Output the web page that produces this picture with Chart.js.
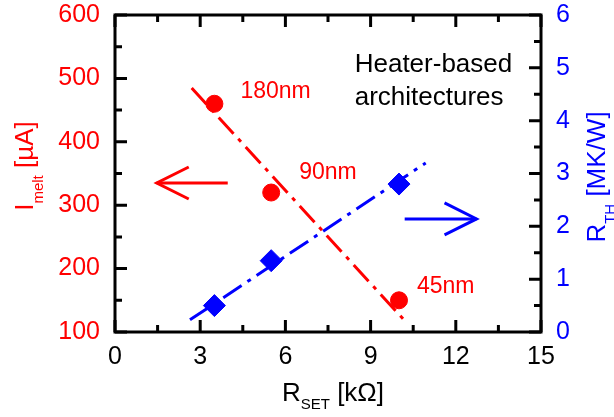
<!DOCTYPE html>
<html><head><meta charset="utf-8">
<script src="https://cdn.jsdelivr.net/npm/chart.js@4"></script>
<style>html,body{margin:0;padding:0;background:#fff;overflow:hidden}#wrap{width:614px;height:417px}</style>
</head><body><div id="wrap"><canvas id="c" width="614" height="417"></canvas></div>
<script>
// ---- data ----
const rSet = [3.5, 5.5, 10];            // R_SET [kΩ]
const iMelt = [460, 320, 150];          // I_melt [µA]
const rTh = [0.5, 1.35, 2.8];           // R_TH [MK/W]
const nodes = ['180nm', '90nm', '45nm'];
const iMeltFitX = [2.7, 10.3];
const iMeltFitY = [485, 113];
const rThFitX = [2.64, 10.94];
const rThFitY = [0.23, 3.2];
const xTicks = [0, 3, 6, 9, 12, 15];
const yTicks = [100, 200, 300, 400, 500, 600];
const y2Ticks = [0, 1, 2, 3, 4, 5, 6];

// ---- styling / annotation constants ----
const RED = '#ff0000', BLUE = '#0000ff';
const FONT = '"Liberation Sans", Arial, Helvetica, sans-serif';
const nodeOffsets = [[26, -12], [28, -20], [18, -14]];
const arrows = [
  { axis: 'y', from: [3.97, 335], to: [1.47, 335], color: RED },
  { axis: 'y2', from: [10.2, 2.14], to: [12.73, 2.14], color: BLUE }
];
const noteLines = ['Heater-based', 'architectures'];
const notePos = { x: 8.44, y: [521, 469] };

function pts(xs, ys) { return xs.map((v, i) => ({ x: v, y: ys[i] })); }

function drawRich(ctx, parts, x, y, rot, color, align) {
  ctx.save();
  ctx.translate(x, y);
  ctx.rotate(rot);
  ctx.fillStyle = color;
  ctx.textBaseline = 'alphabetic';
  ctx.textAlign = 'left';
  let w = 0;
  parts.forEach(p => { ctx.font = p.size + 'px ' + FONT; p.w = ctx.measureText(p.t).width; w += p.w; });
  let cx = align === 'center' ? -w / 2 : 0;
  parts.forEach(p => { ctx.font = p.size + 'px ' + FONT; ctx.fillText(p.t, cx, p.dy || 0); cx += p.w; });
  ctx.restore();
}

const decor = {
  id: 'decor',
  afterDraw(chart) {
    const { ctx, chartArea: a, scales } = chart;
    const x = scales.x, y = scales.y, y2 = scales.y2;
    const minors = t => { const m = []; for (let i = 0; i < t.length - 1; i++) m.push((t[i].value + t[i + 1].value) / 2); return m; };
    const MAJ = 12, MIN = 7;
    ctx.save();
    ctx.strokeStyle = '#000';
    ctx.lineWidth = 3;
    ctx.lineCap = 'butt';
    ctx.beginPath();
    const xt = (v, L) => { const p = x.getPixelForValue(v); ctx.moveTo(p, a.bottom); ctx.lineTo(p, a.bottom - L); ctx.moveTo(p, a.top); ctx.lineTo(p, a.top + L); };
    x.ticks.forEach(t => xt(t.value, MAJ)); minors(x.ticks).forEach(v => xt(v, MIN));
    const yl = (v, L) => { const p = y.getPixelForValue(v); ctx.moveTo(a.left, p); ctx.lineTo(a.left + L, p); };
    y.ticks.forEach(t => yl(t.value, MAJ)); minors(y.ticks).forEach(v => yl(v, MIN));
    const yr = (v, L) => { const p = y2.getPixelForValue(v); ctx.moveTo(a.right, p); ctx.lineTo(a.right - L, p); };
    y2.ticks.forEach(t => yr(t.value, MAJ)); minors(y2.ticks).forEach(v => yr(v, MIN));
    ctx.stroke();
    ctx.lineJoin = 'miter';
    ctx.strokeRect(a.left, a.top, a.right - a.left, a.bottom - a.top);

    // arrows
    arrows.forEach(ar => {
      const s = scales[ar.axis];
      const fx = x.getPixelForValue(ar.from[0]), fy = s.getPixelForValue(ar.from[1]);
      const tx = x.getPixelForValue(ar.to[0]), ty = s.getPixelForValue(ar.to[1]);
      const L = Math.hypot(tx - fx, ty - fy), dx = (tx - fx) / L, dy = (ty - fy) / L;
      const bx = tx - dx * 32, by = ty - dy * 32, nx = -dy * 16, ny = dx * 16;
      ctx.strokeStyle = ar.color; ctx.lineWidth = 3;
      ctx.beginPath(); ctx.moveTo(fx, fy); ctx.lineTo(tx, ty); ctx.stroke();
      ctx.beginPath(); ctx.moveTo(bx + nx, by + ny); ctx.lineTo(tx, ty); ctx.lineTo(bx - nx, by - ny); ctx.stroke();
    });

    // node labels
    ctx.font = '23px ' + FONT;
    ctx.fillStyle = RED; ctx.textAlign = 'left'; ctx.textBaseline = 'middle';
    nodes.forEach((n, i) => {
      const px = x.getPixelForValue(rSet[i]) + nodeOffsets[i][0];
      const py = y.getPixelForValue(iMelt[i]) + nodeOffsets[i][1];
      ctx.fillText(n, px, py);
    });
    // note
    ctx.font = '26px ' + FONT; ctx.fillStyle = '#000';
    noteLines.forEach((t, i) => ctx.fillText(t, x.getPixelForValue(notePos.x), y.getPixelForValue(notePos.y[i])));
    ctx.restore();

    // axis titles
    drawRich(ctx, [{ t: 'R', size: 26 }, { t: 'SET', size: 15, dy: 8 }, { t: ' [kΩ]', size: 26 }], (a.left + a.right) / 2 + 5, 401, 0, '#000', 'center');
    drawRich(ctx, [{ t: 'I', size: 26 }, { t: 'melt', size: 15, dy: 10 }, { t: ' [µA]', size: 26 }], 33, 166, -Math.PI / 2, RED, 'center');
    drawRich(ctx, [{ t: 'R', size: 26 }, { t: 'TH', size: 15, dy: 10 }, { t: ' [MK/W]', size: 26 }], 605, 177, -Math.PI / 2, BLUE, 'center');
  }
};

const tickFont = { family: FONT, size: 25 };
const noPad = s => { s.paddingTop = 0; s.paddingBottom = 0; };
new Chart(document.getElementById('c'), {
  type: 'scatter',
  data: {
    datasets: [
      { label: 'I_melt', data: pts(rSet, iMelt), yAxisID: 'y', backgroundColor: RED, borderColor: RED, pointStyle: 'circle', pointRadius: 8.5, pointBorderWidth: 1, order: 0 },
      { label: 'R_TH', data: pts(rSet, rTh), yAxisID: 'y2', backgroundColor: BLUE, borderColor: BLUE, pointStyle: 'rectRot', pointRadius: 11, pointBorderWidth: 1, order: 0 },
      { type: 'line', label: 'I_melt trend', data: pts(iMeltFitX, iMeltFitY), yAxisID: 'y', borderColor: RED, borderWidth: 3, borderDash: [22, 7, 4, 7], pointRadius: 0, fill: false, order: 1 },
      { type: 'line', label: 'R_TH trend', data: pts(rThFitX, rThFitY), yAxisID: 'y2', borderColor: BLUE, borderWidth: 3, borderDash: [22, 7, 4, 7], pointRadius: 0, fill: false, order: 1 }
    ]
  },
  options: {
    responsive: false, animation: false, devicePixelRatio: 1,
    layout: { padding: { top: 15, left: 0, right: 0, bottom: 0 } },
    plugins: { legend: { display: false }, tooltip: { enabled: false } },
    scales: {
      x: {
        type: 'linear', position: 'bottom', min: 0, max: 15,
        afterBuildTicks: s => { s.ticks = xTicks.map(v => ({ value: v })); },
        ticks: { color: '#000', font: tickFont, padding: 10, maxRotation: 0 },
        grid: { display: false, drawTicks: false }, border: { display: false },
        afterFit: s => { s.height = 85; s.paddingLeft = 0; s.paddingRight = 0; }
      },
      y: {
        type: 'linear', position: 'left', min: 100, max: 600,
        afterBuildTicks: s => { s.ticks = yTicks.map(v => ({ value: v })); },
        ticks: { color: RED, font: tickFont, padding: 15 },
        grid: { display: false, drawTicks: false }, border: { display: false },
        afterFit: s => { s.width = 115; noPad(s); }
      },
      y2: {
        type: 'linear', position: 'right', min: 0, max: 6,
        afterBuildTicks: s => { s.ticks = y2Ticks.map(v => ({ value: v })); },
        ticks: { color: BLUE, font: tickFont, padding: 15 },
        grid: { display: false, drawTicks: false }, border: { display: false },
        afterFit: s => { s.width = 73; noPad(s); }
      }
    }
  },
  plugins: [decor]
});
</script></body></html>
